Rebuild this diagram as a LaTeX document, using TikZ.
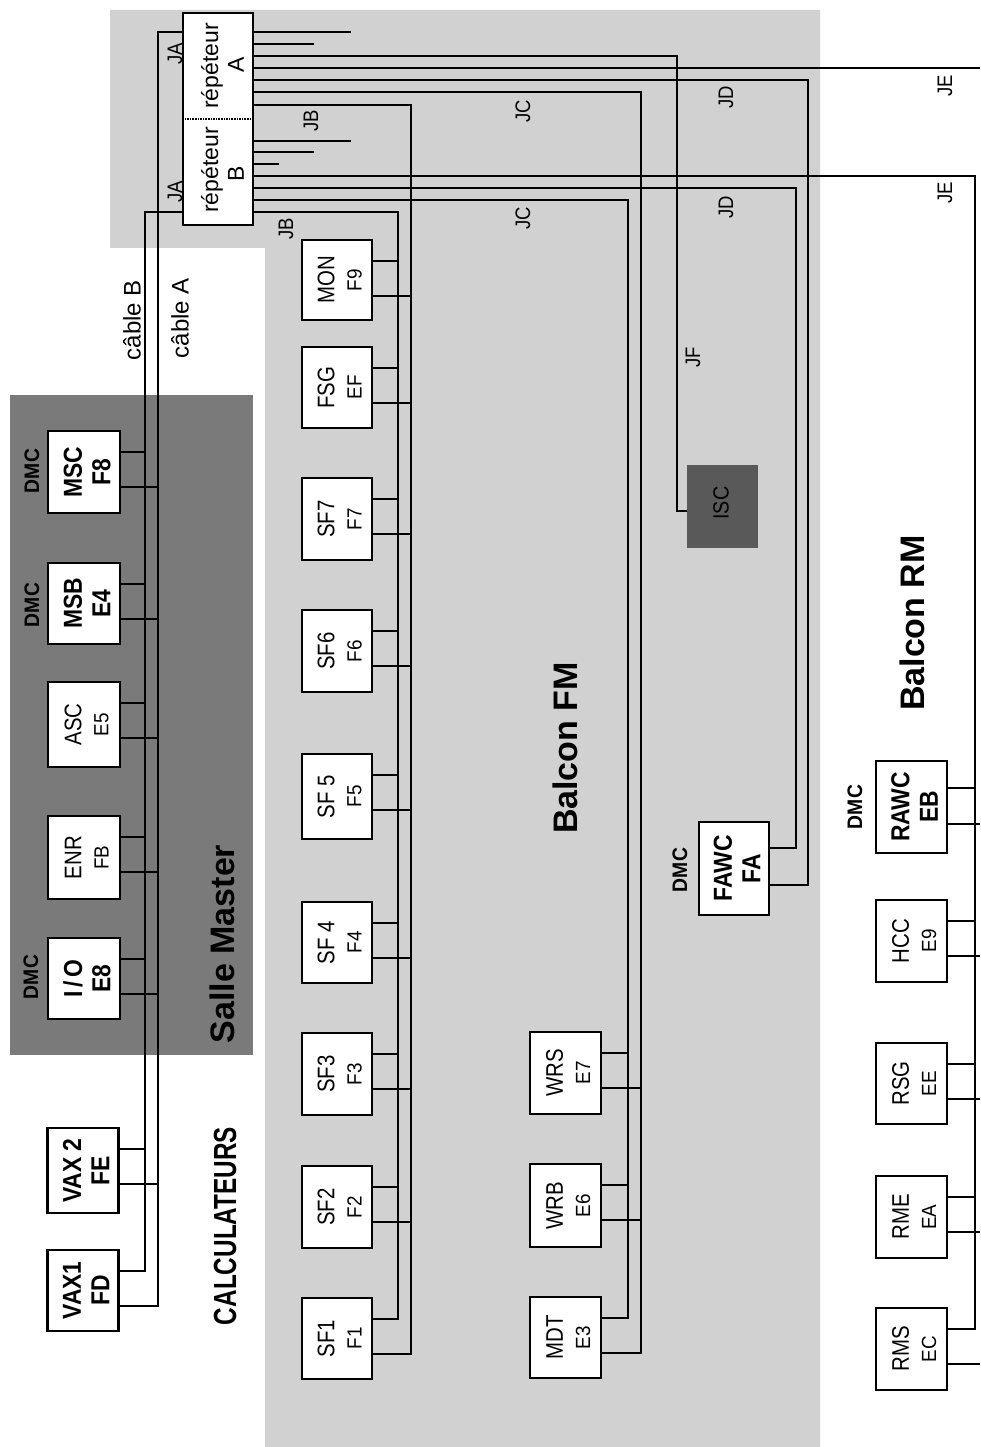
\documentclass[tikz,border=0pt]{standalone}
\usepackage{fontspec}
\setmainfont{Liberation Sans}
\newcommand{\mkunit}[9]{%
  \node[box, minimum width=#3pt, minimum height={#5-#4}] (#1) at (#2,{(#4+#5)/2}) {};
  \node[#8] at ([xshift=-11pt]#1.center) {#6};
  \node[#9] at ([xshift=17.5pt]#1.center) {#7};
  \coordinate (#1-u) at ([yshift=-22pt]#1.north east);
  \coordinate (#1-l) at ([yshift=-57pt]#1.north east);
}
\begin{document}
\begin{tikzpicture}[x=1pt,y=-1pt,
  wire/.style={line width=2.4pt},
  thinwire/.style={line width=1.6pt},
  box/.style={draw, line width=2.2pt, fill=white, inner sep=0pt},
  bt/.style={rotate=90, font=\bfseries\fontsize{26}{28}\selectfont, xscale=0.88, inner sep=0pt},
  rt/.style={rotate=90, font=\fontsize{24}{26}\selectfont, xscale=0.85, inner sep=0pt},
  st/.style={rotate=90, font=\fontsize{20.5}{22}\selectfont, xscale=0.92, inner sep=0pt},
  jl/.style={rotate=90, font=\fontsize{21}{23}\selectfont, xscale=0.88, inner sep=0pt},
  reptext/.style={rotate=90, font=\fontsize{23}{25}\selectfont, inner sep=0pt},
  cabletext/.style={rotate=90, font=\fontsize{24}{26}\selectfont, inner sep=0pt},
  dmc/.style={rotate=90, font=\bfseries\fontsize{21}{23}\selectfont, xscale=0.92, inner sep=0pt},
  title/.style={rotate=90, font=\bfseries\fontsize{34}{36}\selectfont, inner sep=0pt},
]
\useasboundingbox (0,0) rectangle (980,1447);
% backgrounds
\fill[black!18] (110,10) -- (820,10) -- (820,1447) -- (265,1447) -- (265,248) -- (110,248) -- cycle;
\fill[black!52] (10,395) rectangle (253,1055);

% bus x positions
\coordinate (xCB) at (145,0);
\coordinate (xCA) at (158,0);
\coordinate (xJBB) at (398,0);
\coordinate (xJBA) at (411,0);
\coordinate (xJCB) at (628,0);
\coordinate (xJCA) at (641,0);
\coordinate (xJDB) at (796,0);
\coordinate (xJDA) at (808,0);
\coordinate (xJEB) at (975,0);
\coordinate (xJEA) at (980,0);

% repeater
\node[box, minimum width=70pt, minimum height=212pt] (rep) at (218,119) {};
\draw[densely dotted, line width=1.6pt] (rep.west) -- (rep.east);
\node[reptext] at (212,66) {répéteur};
\node[reptext] at (236,65) {A};
\node[reptext] at (212,170) {répéteur};
\node[reptext] at (236,174) {B};
\foreach \k/\d in {1/20,2/32,3/44,4/56,5/68,6/80,7/93}
  \coordinate (rA\k) at ([yshift=-\d pt]rep.north east);
\foreach \k/\d in {1/129,2/140,3/152,4/164,5/176,6/188,7/200}
  \coordinate (rB\k) at ([yshift=-\d pt]rep.north east);
\coordinate (rLA) at ([yshift=-20pt]rep.north west);
\coordinate (rLB) at ([yshift=-200pt]rep.north west);

% ISC
\node[fill=black!65, minimum width=71pt, minimum height=83pt, inner sep=0pt] (isc) at (722.5,506.5) {};
\node[rotate=90, font=\fontsize{22}{24}\selectfont, xscale=0.9, inner sep=0pt] at (721,503) {ISC};

% Salle Master / calculateurs
\mkunit{msc}{84}{72}{431}{513}{MSC}{F8}{bt}{bt}
\mkunit{msb}{84}{72}{563}{644}{MSB}{E4}{bt}{bt}
\mkunit{asc}{84}{72}{682}{767}{ASC}{E5}{rt}{st}
\mkunit{enr}{84}{72}{816}{899}{ENR}{FB}{rt}{st}
\mkunit{io}{84}{72}{938}{1019}{I\,/\,O}{E8}{bt}{bt}
\mkunit{vaxb}{83}{71}{1128}{1213}{VAX 2}{FE}{bt}{bt}
\mkunit{vaxa}{83}{71}{1250}{1331}{VAX1}{FD}{bt}{bt}

% Balcon FM top column
\mkunit{mon}{337}{70}{240}{320}{MON}{F9}{rt}{st}
\mkunit{fsg}{337}{70}{347}{428}{FSG}{EF}{rt}{st}
\mkunit{sf7}{337}{70}{478}{560}{SF7}{F7}{rt}{st}
\mkunit{sf6}{337}{70}{610}{692}{SF6}{F6}{rt}{st}
\mkunit{sf5}{337}{70}{754}{839}{SF 5}{F5}{rt}{st}
\mkunit{sf4}{337}{70}{902}{983}{SF 4}{F4}{rt}{st}
\mkunit{sf3}{337}{70}{1033}{1115}{SF3}{F3}{rt}{st}
\mkunit{sf2}{337}{70}{1166}{1248}{SF2}{F2}{rt}{st}
\mkunit{sf1}{337}{70}{1298}{1379}{SF1}{F1}{rt}{st}

% Balcon FM second column
\mkunit{wrs}{565.5}{71}{1032}{1114}{WRS}{E7}{rt}{st}
\mkunit{wrb}{565.5}{71}{1164}{1247}{WRB}{E6}{rt}{st}
\mkunit{mdt}{565.5}{71}{1297}{1378}{MDT}{E3}{rt}{st}

% FAWC
\mkunit{fawc}{734}{70}{822}{915}{FAWC}{FA}{bt}{bt}
\coordinate (fawc-u) at ([yshift=-27pt]fawc.north east);
\coordinate (fawc-l) at ([yshift=-64pt]fawc.north east);

% Balcon RM
\mkunit{rawc}{911.5}{71}{761}{853}{RAWC}{EB}{bt}{bt}
\coordinate (rawc-u) at ([yshift=-28pt]rawc.north east);
\coordinate (rawc-l) at ([yshift=-64pt]rawc.north east);
\mkunit{hcc}{911.5}{71}{900}{982}{HCC}{E9}{rt}{st}
\mkunit{rsg}{911.5}{71}{1043}{1124}{RSG}{EE}{rt}{st}
\mkunit{rme}{911.5}{71}{1176}{1258}{RME}{EA}{rt}{st}
\mkunit{rms}{911.5}{71}{1308}{1390}{RMS}{EC}{rt}{st}

% cables A and B
\draw[wire] (rLA) -| (vaxa-l -| xCA) -- (vaxa-l);
\draw[wire] (rLB) -| (vaxa-u -| xCB) -- (vaxa-u);
\foreach \n in {msc,msb,asc,enr,io,vaxb} {
  \draw[wire] (\n-u) -- (\n-u -| xCB);
  \draw[wire] (\n-l) -- (\n-l -| xCA);
}

% JB
\draw[wire] (rB7) -| (sf1-u -| xJBB) -- (sf1-u);
\draw[wire] (rA7) -| (sf1-l -| xJBA) -- (sf1-l);
\foreach \n in {mon,fsg,sf7,sf6,sf5,sf4,sf3,sf2} {
  \draw[wire] (\n-u) -- (\n-u -| xJBB);
  \draw[wire] (\n-l) -- (\n-l -| xJBA);
}

% JC
\draw[wire] (rB6) -| (mdt-u -| xJCB) -- (mdt-u);
\draw[wire] (rA6) -| (mdt-l -| xJCA) -- (mdt-l);
\foreach \n in {wrs,wrb} {
  \draw[wire] (\n-u) -- (\n-u -| xJCB);
  \draw[wire] (\n-l) -- (\n-l -| xJCA);
}

% JD
\draw[wire] (rB5) -| (fawc-u -| xJDB) -- (fawc-u);
\draw[wire] (rA5) -| (fawc-l -| xJDA) -- (fawc-l);

% JE
\draw[thinwire] (rB4) -| (rms-u -| xJEB) -- (rms-u);
\draw[wire] (rA4) -- (rA4 -| xJEA);
\foreach \n in {rawc,hcc,rsg,rme} {
  \draw[wire] (\n-u) -- (\n-u -| xJEB);
}
\foreach \n in {rawc,hcc,rsg,rme,rms} {
  \draw[wire] (\n-l) -- (\n-l -| xJEA);
}

% JF
\draw[thinwire] (rA3) -| ([xshift=-10pt,yshift=-4.5pt]isc.west) -- ([yshift=-4.5pt]isc.west);

% stubs
\draw[wire] (rA1) -- ++(97,0) coordinate (eA1);
\draw[wire] (rA2) -- ++(60,0) coordinate (eA2);
\draw[wire] (rB1) -- ++(97,0) coordinate (eB1);
\draw[wire] (rB2) -- ++(60,0) coordinate (eB2);
\draw[wire] (rB3) -- ++(25,0) coordinate (eB3);

% J labels
\node[jl] at (175,54) {JA};
\node[jl] at (175,192) {JA};
\node[jl] at (311,121) {JB};
\node[jl] at (286,229) {JB};
\node[jl] at (523,111) {JC};
\node[jl] at (523,218) {JC};
\node[jl] at (726,97) {JD};
\node[jl] at (726,207) {JD};
\node[jl] at (945,86) {JE};
\node[jl] at (945,193) {JE};
\node[jl] at (693,357) {JF};

% cable labels
\node[cabletext] at (132,320) {câble B};
\node[cabletext] at (180,318) {câble A};

% DMC labels
\node[dmc] at (32,471) {DMC};
\node[dmc] at (32,605) {DMC};
\node[dmc] at (31,977) {DMC};
\node[dmc] at (680,870) {DMC};
\node[dmc] at (855,807) {DMC};

% titles
\node[title] at (565,748) {Balcon FM};
\node[title] at (912,623) {Balcon RM};
\node[title] at (222,944) {Salle Master};
\node[rotate=90, font=\bfseries\fontsize{32}{34}\selectfont, xscale=0.76, inner sep=0pt] at (225,1226) {CALCULATEURS};
\end{tikzpicture}
\end{document}
